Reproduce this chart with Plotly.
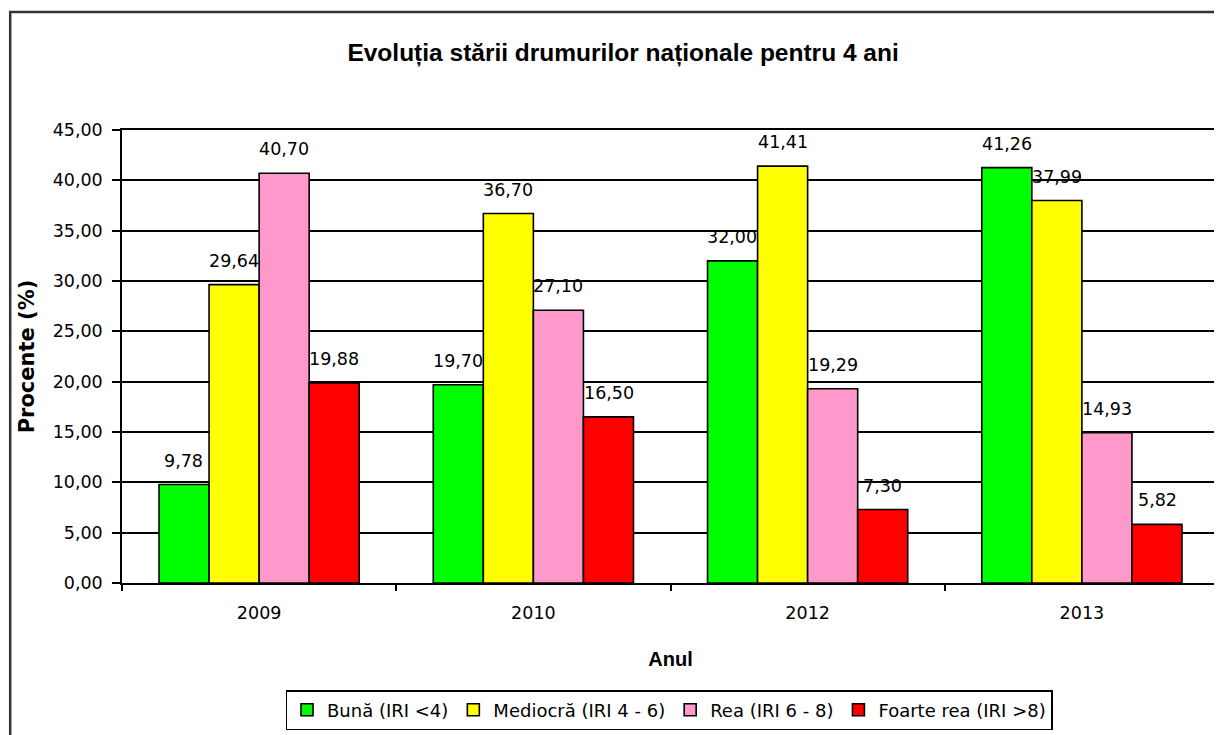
import plotly.graph_objects as go

years = ["2009", "2010", "2012", "2013"]
series_names = ["Bună (IRI <4)", "Mediocră (IRI 4 - 6)", "Rea (IRI 6 - 8)", "Foarte rea (IRI >8)"]
buna = [9.78, 19.70, 32.00, 41.26]
mediocra = [29.64, 36.70, 41.41, 37.99]
rea = [40.70, 27.10, 19.29, 14.93]
foarte_rea = [19.88, 16.50, 7.30, 5.82]
colors = ["#00FF00", "#FFFF00", "#FF99CC", "#FF0000"]

OFF = 8  # browser default body margin
W, H = 1222 - OFF, 735 - OFF
L, R, T, B = 122 - OFF, 1221 - OFF, 130 - OFF, 583 - OFF
BARGAP = 0.27
FONT = "DejaVu Sans, Verdana, sans-serif"
BOLD_T = "Liberation Sans, Arial, sans-serif"

def fmt(v):
    return f"{v:.2f}".replace(".", ",")

def px(x):
    return (x - L) / (R - L)

def py(y):
    return (B - y) / (B - T)

all_series = [buna, mediocra, rea, foarte_rea]
fig = go.Figure()
for name, vals, col in zip(series_names, all_series, colors):
    fig.add_trace(go.Bar(
        x=years, y=vals, name=name,
        marker=dict(color=col, line=dict(color="black", width=1.6)),
        hoverinfo="x+y+name",
    ))

# data labels, offset like grouped bars (x given as category index)
n = len(all_series)
cat_px = (R - L) / len(years)
bar_px = cat_px * (1 - BARGAP) / n
annotations = []
for i, vals in enumerate(all_series):
    for j, v in enumerate(vals):
        annotations.append(dict(
            x=j, y=v, xref="x", yref="y", text=fmt(v), showarrow=False,
            xshift=(i - (n - 1) / 2) * bar_px, yshift=12, yanchor="bottom",
            font=dict(family=FONT, size=17.5, color="black"),
        ))

fig.update_layout(
    width=W, height=H,
    margin=dict(l=L, r=W - R, t=T, b=H - B, pad=0),
    paper_bgcolor="white", plot_bgcolor="white",
    separators=", ",
    barmode="group", bargap=BARGAP, bargroupgap=0,
    font=dict(family=FONT, size=17.5, color="black"),
    title=dict(text="<b>Evoluția stării drumurilor naționale pentru 4 ani</b>",
               x=px(624 - OFF), xref="paper", xanchor="center",
               y=1 - (52 - OFF) / H, yanchor="middle",
               font=dict(size=24.5, family=BOLD_T, color="black")),
    legend=dict(orientation="h", x=px(670 - OFF), xanchor="center", y=py(690 - OFF), yanchor="top",
                bordercolor="black", borderwidth=1.5, bgcolor="white",
                font=dict(size=18, family=FONT), traceorder="normal",
                itemwidth=30, tracegroupgap=0),
    showlegend=True,
    annotations=annotations,
    xaxis=dict(type="category", categoryorder="array", categoryarray=years, range=[-0.5, len(years) - 0.5],
               showline=True, linecolor="black", linewidth=1.5, mirror=True,
               ticks="outside", tickson="boundaries", ticklen=6, tickcolor="black", tickwidth=1.5,
               tickfont=dict(size=17.5), showgrid=False, ticklabelstandoff=13, tickangle=0,
               title=dict(text="<b>Anul</b>", font=dict(size=20, family=BOLD_T), standoff=30)),
    yaxis=dict(range=[0, 45], dtick=5, tickformat=".2f", showline=True, linecolor="black",
               linewidth=1.5, mirror=True, ticks="outside", ticklen=8, tickcolor="black",
               tickwidth=1.5, showgrid=True, gridcolor="black", gridwidth=1.5,
               tickfont=dict(size=17.5), zeroline=False, ticklabelstandoff=6,
               title=dict(text="<b>Procente (%)</b>", font=dict(size=21, family=FONT), standoff=12)),
    shapes=[dict(type="rect", xref="paper", yref="paper",
                 x0=px(10 - OFF), x1=px(1240), y0=py(12 - OFF), y1=py(760),
                 line=dict(color="#333333", width=2.5), fillcolor="rgba(0,0,0,0)", layer="below")],
)

fig.write_html("out.html")
